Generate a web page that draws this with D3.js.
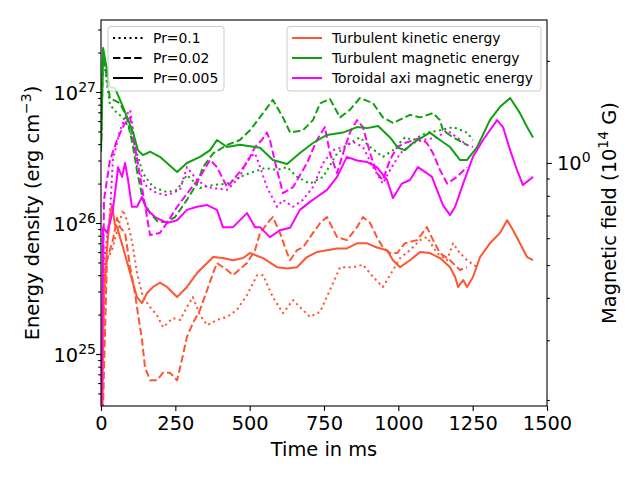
<!DOCTYPE html>
<html><head><meta charset="utf-8">
<script src="https://cdn.jsdelivr.net/npm/d3@7"></script>
<style>body{margin:0;background:#fff}svg{display:block}text{font-family:"DejaVu Sans",sans-serif}</style>
</head><body><svg id="c" width="640" height="480"></svg>
<script>
// ---------------- data (time in ms, energy density in erg cm^-3) ----------------
const xTicks = [0, 250, 500, 750, 1000, 1250, 1500];
const leftMajor = [1e25, 1e26, 1e27];
const rightMajor = [1];
const seriesNames = ["Turbulent kinetic energy", "Turbulent magnetic energy", "Toroidal axi magnetic energy"];
const prandtl = ["Pr=0.1", "Pr=0.02", "Pr=0.005"];

// Pr = 0.005 (solid)
const kinT_005 = [0,10,20,30,37,47,54,74,98,121,138,155,175,198,222,256,289,323,357,377,410,444,478,501,545,592,626,659,693,726,760,794,827,861,895,928,962,982,1006,1039,1073,1106,1140,1174,1191,1201,1218,1231,1251,1275,1308,1342,1366,1386,1409,1433,1453];
const kinE_005 = [1e24,3.1e25,6.2e25,1.15e26,1.37e26,9.7e25,9.3e25,6.5e25,4.15e25,2.72e25,2.45e25,2.92e25,3.25e25,3.5e25,3.25e25,2.72e25,3.25e25,4.15e25,4.95e25,5.5e25,5.4e25,5.2e25,5.4e25,5.9e25,5.4e25,4.6e25,4.5e25,4.6e25,5.5e25,6.0e25,6.2e25,6.4e25,6.4e25,7.0e25,7.0e25,6.5e25,6.2e25,5.2e25,4.6e25,5.2e25,6.0e25,5.9e25,5.4e25,4.6e25,3.87e25,3.25e25,3.67e25,3.25e25,3.87e25,5.5e25,7.0e25,8.4e25,1.05e26,8.8e25,7.0e25,5.5e25,5.2e25];
const magT_005 = [0,7,30,47,74,108,124,141,165,198,256,289,333,367,390,424,467,518,535,578,626,669,713,760,814,861,895,932,972,999,1022,1049,1106,1140,1174,1207,1231,1265,1308,1342,1376,1409,1433,1453];
const magE_005 = [3.5e26,2.17e27,1.09e27,1.07e27,7.7e26,4.9e26,3.6e26,3.3e26,3.5e26,3.2e26,2.45e26,2.87e26,3.2e26,3.6e26,4.3e26,3.8e26,3.95e26,3.8e26,3.75e26,3.03e26,2.82e26,3.42e26,4.08e26,4.7e26,4.9e26,5.4e26,5.3e26,5.5e26,4.5e26,3.75e26,3.6e26,4.08e26,4.9e26,4.3e26,3.8e26,3.03e26,3.03e26,3.8e26,6.1e26,7.7e26,9.0e26,6.9e26,5.4e26,4.5e26];
const torT_005 = [0,7,20,30,40,54,57,71,81,91,104,121,138,155,182,222,256,289,323,357,390,410,444,491,518,535,568,602,636,669,703,726,760,794,827,861,895,928,962,982,1012,1039,1066,1096,1113,1130,1150,1174,1191,1218,1251,1285,1332,1352,1376,1399,1419,1453];
const torE_005 = [1e24,9.3e25,8.4e25,1.0e26,1.26e26,2.25e26,2.67e26,2.25e26,2.87e26,2.13e26,1.33e26,1.33e26,1.58e26,1.26e26,1.11e26,1.0e26,1.05e26,1.26e26,1.33e26,1.37e26,1.26e26,9.3e25,9.3e25,1.19e26,9.3e25,9.3e25,7.8e25,8.8e25,9.2e25,1.26e26,1.45e26,1.58e26,1.79e26,2.25e26,3.2e26,3.0e26,2.92e26,2.67e26,2.13e26,1.55e26,2.0e26,2.13e26,2.67e26,2.4e26,2.25e26,1.79e26,1.37e26,1.15e26,1.33e26,2.0e26,3.2e26,4.3e26,6.1e26,5.4e26,3.6e26,2.54e26,1.95e26,2.25e26];

// Pr = 0.02 (dashed)
const kinT_002 = [0,20,40,54,64,81,98,114,124,138,148,165,188,209,232,256,272,289,309,333,357,377,390,424,444,491,518,535,568,578,602,626,636,659,679,713,737,760,794,827,861,881,905,928,948,972,996,1022,1063,1096,1117,1140,1174,1207,1231];
const kinE_002 = [1e24,5.2e25,7.4e25,1.09e26,9.3e25,8.4e25,4.6e25,2.92e25,2.05e25,1.28e25,7.9e24,6.3e24,6.3e24,7.2e24,7.2e24,6.3e24,9.0e24,1.35e25,1.72e25,2.17e25,3.08e25,4.15e25,4.95e25,4.38e25,4.0e25,4.95e25,6.2e25,8.4e25,1.05e26,1.11e26,8.4e25,5.9e25,5.2e25,6.2e25,6.5e25,8.4e25,1.0e26,1.11e26,7.8e25,7.4e25,9.3e25,1.11e26,1.0e26,7.8e25,6.5e25,5.9e25,5.9e25,7.0e25,7.4e25,9.3e25,7.4e25,5.9e25,5.2e25,4.38e25,4.6e25];
const magT_002 = [0,7,30,64,87,108,121,141,165,192,222,249,289,323,343,377,424,467,501,545,578,612,636,679,713,737,770,804,837,871,915,948,982,1022,1039,1073,1117,1140,1150,1184,1231];
const magE_002 = [3.5e26,2.0e27,9.0e26,8.2e26,6.4e26,3.8e26,2.5e26,1.5e26,1.19e26,1.02e26,1.02e26,1.11e26,1.5e26,2.0e26,2.67e26,3.4e26,3.94e26,4.3e26,5.1e26,6.9e26,8.7e26,6.4e26,4.9e26,5.1e26,6.1e26,8.2e26,8.85e26,6.4e26,7.3e26,9.0e26,8.2e26,6.4e26,5.8e26,6.4e26,6.7e26,6.4e26,6.9e26,6.1e26,5.1e26,4.5e26,3.94e26];
const torT_002 = [0,10,30,54,77,98,108,124,141,165,198,222,256,299,333,367,390,424,444,491,518,541,558,568,592,612,646,693,726,753,770,794,814,837,861,881,905,928,948,972,996,1022,1073,1096,1117,1140,1164,1197,1231];
const torE_002 = [1e24,1.5e26,3.0e26,4.3e26,5.6e26,6.4e26,4.5e26,2.87e26,1.69e26,8.1e25,8.4e25,1.0e26,1.33e26,1.79e26,2.25e26,3.03e26,2.67e26,1.88e26,2.13e26,2.87e26,3.8e26,4.3e26,4.9e26,4.3e26,2.54e26,1.69e26,1.88e26,2.87e26,4.3e26,5.4e26,3.4e26,2.4e26,3.4e26,4.9e26,6.1e26,5.4e26,3.4e26,2.4e26,2.13e26,3.03e26,3.8e26,4.08e26,4.45e26,4.08e26,3.4e26,2.54e26,2.0e26,2.25e26,2.67e26];

// Pr = 0.1 (dotted)
const kinT_01 = [0,10,20,40,57,74,87,98,108,121,141,165,188,209,242,266,289,309,333,357,390,424,457,491,525,545,578,612,646,669,703,737,770,804,848,881,915,948,972,1006,1039,1073,1096,1130,1164,1184,1207,1231,1265];
const kinE_01 = [1e24,2.6e25,5.2e25,6.5e25,9.3e25,1.26e26,1.05e26,8.4e25,6.5e25,4.15e25,2.72e25,2.28e25,1.98e25,1.6e25,1.88e25,1.82e25,2.28e25,2.72e25,1.98e25,1.66e25,1.82e25,1.92e25,2.17e25,2.82e25,4.0e25,4.0e25,2.72e25,2.05e25,2.58e25,2.28e25,1.92e25,2.1e25,3.08e25,4.6e25,4.6e25,4.8e25,3.87e25,3.25e25,4.0e25,5.4e25,6.2e25,7.4e25,7.8e25,5.9e25,5.2e25,7.0e25,5.9e25,5.2e25,4.6e25];
const magT_01 = [0,7,30,54,74,98,121,141,175,222,256,289,333,377,424,467,511,552,592,626,659,703,747,794,837,871,905,948,982,1022,1049,1096,1140,1184,1231,1251];
const magE_01 = [3.5e26,1.9e27,8.0e26,6.9e26,6.4e26,5.1e26,3.4e26,2.4e26,1.88e26,1.72e26,1.79e26,2.33e26,1.85e26,1.95e26,2.0e26,2.25e26,2.45e26,2.63e26,2.54e26,2.67e26,2.25e26,2.0e26,2.25e26,3.4e26,4.08e26,4.5e26,3.8e26,3.2e26,3.6e26,4.5e26,4.3e26,4.9e26,5.1e26,5.4e26,4.9e26,4.3e26];
const torT_01 = [0,10,30,40,64,84,98,108,121,155,188,222,266,289,323,357,424,467,491,518,535,558,592,612,646,679,713,747,780,814,848,881,915,948,972,1006,1049,1083,1130,1164,1197,1231,1251];
const torE_01 = [1e24,5.2e25,1.15e26,3.03e26,5.1e26,6.6e26,7.3e26,5.1e26,2.67e26,1.88e26,1.69e26,1.63e26,1.79e26,2.67e26,2.13e26,1.88e26,1.79e26,2.25e26,3.03e26,3.4e26,2.67e26,1.88e26,1.33e26,1.5e26,1.33e26,1.5e26,1.88e26,2.87e26,3.6e26,3.8e26,4.15e26,3.8e26,2.67e26,2.0e26,2.54e26,3.4e26,4.08e26,4.3e26,4.5e26,5.1e26,4.5e26,3.94e26,3.8e26];

// ---------------- chart ----------------
const colors = ["#ff5533", "#11a011", "#ff00ff"];
const dashes = [[2.1, 3.4], [7.4, 3.2], null];
const W = 640, H = 480;
const m = {l: 101, r: 547, t: 20, b: 406};
const svg = d3.select("#c");

const x = d3.scaleLinear().domain([0, 1500]).range([m.l, m.r]);
const y = d3.scaleLog().domain([4.01e24, 3.545e27]).range([m.b, m.t]);
const yR = d3.scaleLog().domain([0.192, 2.64]).range([m.b, m.t]);

svg.append("defs").append("clipPath").attr("id", "clip")
  .append("rect").attr("x", m.l).attr("y", m.t).attr("width", m.r - m.l).attr("height", m.b - m.t);

const groups = [
  [[kinT_01, kinE_01], [magT_01, magE_01], [torT_01, torE_01]],
  [[kinT_002, kinE_002], [magT_002, magE_002], [torT_002, torE_002]],
  [[kinT_005, kinE_005], [magT_005, magE_005], [torT_005, torE_005]]
];
const line = d3.line().x(d => x(d[0])).y(d => y(d[1]));
const plot = svg.append("g").attr("clip-path", "url(#clip)");
groups.forEach((g, pi) => {
  g.forEach((s, si) => {
    const pts = s[0].map((t, i) => [t, s[1][i]]);
    const p = plot.append("path").datum(pts).attr("d", line)
      .attr("fill", "none").attr("stroke", colors[si]).attr("stroke-width", 2)
      .attr("stroke-linejoin", "round");
    if (dashes[pi]) p.attr("stroke-dasharray", dashes[pi].join(","));
  });
});

// axes
const fs = 19.4;
const xAxis = svg.append("g").attr("transform", `translate(0,${m.b})`)
  .call(d3.axisBottom(x).tickValues(xTicks).tickSize(4.9).tickPadding(4.9).tickFormat(d3.format("d")));
xAxis.selectAll("text").attr("font-size", fs).attr("font-family", "DejaVu Sans").attr("fill", "#000");

const leftTicks = y.ticks().filter(v => v >= y.domain()[0] && v <= y.domain()[1]);
const leftMinor = leftTicks.filter(v => !leftMajor.includes(v));
svg.append("g").attr("transform", `translate(${m.l},0)`)
  .call(d3.axisLeft(y).tickValues(leftMinor).tickSize(2.8).tickFormat(""));
svg.append("g").attr("transform", `translate(${m.l},0)`)
  .call(d3.axisLeft(y).tickValues(leftMajor).tickSize(4.9).tickFormat(""));

const rightTicks = yR.ticks().filter(v => v >= yR.domain()[0] && v <= yR.domain()[1]);
const rightMinor = rightTicks.filter(v => !rightMajor.includes(v));
svg.append("g").attr("transform", `translate(${m.r},0)`)
  .call(d3.axisRight(yR).tickValues(rightMinor).tickSize(2.8).tickFormat(""));
svg.append("g").attr("transform", `translate(${m.r},0)`)
  .call(d3.axisRight(yR).tickValues(rightMajor).tickSize(4.9).tickFormat(""));

svg.selectAll(".domain").remove();
svg.selectAll(".tick line").attr("stroke", "#000").attr("stroke-width", 1.1);

// frame
svg.append("rect").attr("x", m.l).attr("y", m.t).attr("width", m.r - m.l).attr("height", m.b - m.t)
  .attr("fill", "none").attr("stroke", "#000").attr("stroke-width", 1.1);

// left tick labels 10^n
leftMajor.forEach(v => {
  const e = Math.round(Math.log10(v));
  const t = svg.append("text").attr("x", 96).attr("y", y(v) + 7.5)
    .attr("text-anchor", "end").attr("font-size", fs);
  t.append("tspan").text("10");
  t.append("tspan").attr("dy", -8).attr("font-size", 14).text(String(e));
});
rightMajor.forEach(v => {
  const e = Math.round(Math.log10(v));
  const t = svg.append("text").attr("x", 557).attr("y", yR(v) + 7.5)
    .attr("text-anchor", "start").attr("font-size", fs);
  t.append("tspan").text("10");
  t.append("tspan").attr("dy", -8).attr("font-size", 14).text(String(e));
});

// axis labels
svg.append("text").attr("x", (m.l + m.r) / 2).attr("y", 456).attr("text-anchor", "middle")
  .attr("font-size", fs).text("Time in ms");
const yl = svg.append("text").attr("transform", `translate(39,${(m.t + m.b) / 2}) rotate(-90)`)
  .attr("text-anchor", "middle").attr("font-size", fs);
yl.append("tspan").text("Energy density (erg cm");
yl.append("tspan").attr("dy", -8).attr("font-size", 14).text("\u22123");
yl.append("tspan").attr("dy", 8).text(")");
const yr = svg.append("text").attr("transform", `translate(616,${(m.t + m.b) / 2}) rotate(-90)`)
  .attr("text-anchor", "middle").attr("font-size", fs);
yr.append("tspan").text("Magnetic field (10");
yr.append("tspan").attr("dy", -8).attr("font-size", 14).text("14");
yr.append("tspan").attr("dy", 8).text(" G)");

// legends
function legend(x0, y0, w, h, items) {
  const g = svg.append("g");
  g.append("rect").attr("x", x0).attr("y", y0).attr("width", w).attr("height", h)
    .attr("rx", 3).attr("fill", "#fff").attr("fill-opacity", 0.8)
    .attr("stroke", "#cccccc").attr("stroke-width", 1);
  items.forEach((it, i) => {
    const yy = y0 + 11.5 + i * 20;
    const l = g.append("line").attr("x1", x0 + 5).attr("x2", x0 + 35).attr("y1", yy).attr("y2", yy)
      .attr("stroke", it.color).attr("stroke-width", 2);
    if (it.dash) l.attr("stroke-dasharray", it.dash.join(","));
    g.append("text").attr("x", x0 + 45).attr("y", yy + 5).attr("font-size", 13.9).text(it.label);
  });
}
legend(108, 26.5, 116, 64.5, prandtl.map((p, i) => ({label: p, color: "#000", dash: dashes[i]})));
legend(287, 26.5, 254, 64.5, seriesNames.map((s, i) => ({label: s, color: colors[i], dash: null})));
</script></body></html>
